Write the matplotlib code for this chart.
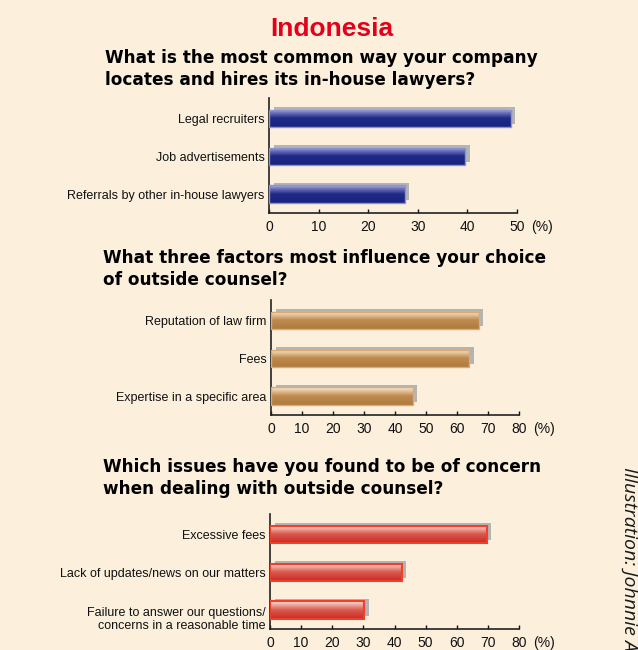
import numpy as np
import matplotlib.pyplot as plt
from matplotlib.colors import LinearSegmentedColormap
from matplotlib.transforms import ScaledTranslation

# data
q1_labels = ['Legal recruiters', 'Job advertisements', 'Referrals by other in-house lawyers']
q1_values = [48.7, 39.6, 27.4]
q2_labels = ['Reputation of law firm', 'Fees', 'Expertise in a specific area']
q2_values = [67.0, 64.0, 45.8]
q3_labels = ['Excessive fees', 'Lack of updates/news on our matters',
             'Failure to answer our questions/\nconcerns in a reasonable time']
q3_values = [69.7, 42.3, 30.3]

W, H = 638, 650
bg = '#FCF0DD'
plt.rcParams['font.family'] = ['Liberation Sans', 'DejaVu Sans']

fig = plt.figure(figsize=(W / 100, H / 100), dpi=100, facecolor=bg)


def px_axes(x0, y0, x1, y1):
    return fig.add_axes([x0 / W, 1 - y1 / H, (x1 - x0) / W, (y1 - y0) / H])


def fig_text(x, y, s, **kw):
    fig.text(x / W, 1 - y / H, s, **kw)


blue = LinearSegmentedColormap.from_list('b', [(0, '#18237E'), (0.5, '#1E2A86'),
                                               (0.85, '#7A7FC4'), (1.0, '#B4B8E4')])
tan = LinearSegmentedColormap.from_list('t', [(0, '#B07A3C'), (0.5, '#BE8A4E'),
                                              (0.85, '#EBCFAA'), (1.0, '#F8E6CE')])
red = LinearSegmentedColormap.from_list('r', [(0, '#CC2B27'), (0.5, '#D8584C'),
                                              (0.85, '#F2B9AE'), (1.0, '#F9DCD4')])
# row 0 = top of bar (light), last row = bottom (dark)
grad = np.linspace(1, 0, 64).reshape(-1, 1)


def draw_chart(box, labels, values, xmax, cmap, edge, lw=1.0):
    ax = px_axes(*box)
    ax.set_facecolor(bg)
    n = len(values)
    y = np.arange(n)
    h = 0.45
    ppu = (box[2] - box[0]) / xmax  # pixels per unit
    dx = 4.5 / ppu
    dy = 2.5 / 38.0
    ax.barh(y - dy, values, height=h, left=dx, color='#B4B4B4', zorder=1)
    bars = ax.barh(y, values, height=h, color='none', edgecolor=edge, linewidth=lw, zorder=3)
    for b, v, yy in zip(bars, values, y):
        im = ax.imshow(grad, cmap=cmap, vmin=0, vmax=1, origin='upper', aspect='auto',
                       extent=[0, v, yy + h / 2, yy - h / 2], zorder=2)
        im.set_clip_path(b)
    ax.set_xlim(0, xmax)
    ax.set_ylim(n - 0.5, -0.53)
    ax.set_xticks(np.arange(0, xmax + 1, 10))
    ax.set_yticks(y)
    ax.set_yticklabels(labels, fontsize=9, color='#111111')
    ax.tick_params(axis='y', length=0, pad=3)
    ax.tick_params(axis='x', direction='in', length=3, width=1, labelsize=10, pad=5,
                   colors='#111111')
    for s in ['top', 'right']:
        ax.spines[s].set_visible(False)
    for s in ['left', 'bottom']:
        ax.spines[s].set_color('#222222')
        ax.spines[s].set_linewidth(1.2)
    ax.annotate('(%)', xy=(1, 0), xycoords='axes fraction', xytext=(10, -5),
                textcoords='offset points', va='top', ha='left', fontsize=10,
                color='#111111')
    return ax


draw_chart((269, 98, 517, 213), q1_labels, q1_values, 50, blue, '#8C92D6')
draw_chart((271, 300, 519, 415), q2_labels, q2_values, 80, tan, '#DDAA72')
ax3 = draw_chart((270, 514, 519, 629), q3_labels, q3_values, 80, red, '#F0402A', lw=1.5)
lab = ax3.get_yticklabels()[2]
lab.set_multialignment('right')
lab.set_transform(lab.get_transform() + ScaledTranslation(0, -0.07, fig.dpi_scale_trans))

# titles
fig_text(332, 36, 'Indonesia', ha='center', va='baseline', fontsize=19,
         fontweight='bold', color='#E2001A')
qfont = dict(ha='left', va='baseline', fontsize=12.2, fontweight='bold',
             color='#000000', family='DejaVu Sans')
fig_text(105, 63, 'What is the most common way your company', **qfont)
fig_text(105, 85, 'locates and hires its in-house lawyers?', **qfont)
fig_text(103, 263, 'What three factors most influence your choice', **qfont)
fig_text(103, 285, 'of outside counsel?', **qfont)
fig_text(103, 472, 'Which issues have you found to be of concern', **qfont)
fig_text(103, 494, 'when dealing with outside counsel?', **qfont)

# credit runs off the bottom edge, as in the original page
fig_text(629, 467, 'Illustration: Johnnie Au', rotation=270, ha='center', va='top',
         fontsize=14, style='italic', family='Open Sans', color='#1A1A1A')

fig.savefig('out.png', dpi=100, facecolor=bg)
